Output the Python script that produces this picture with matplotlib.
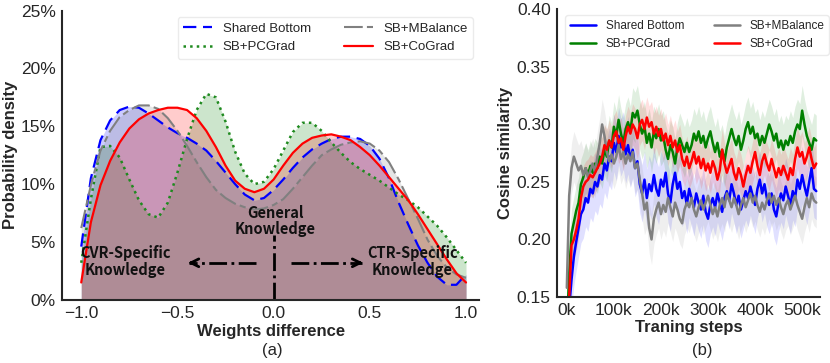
import numpy as np
import matplotlib
matplotlib.use('Agg')
import matplotlib.pyplot as plt
import seaborn as sns
from matplotlib.ticker import PercentFormatter, FuncFormatter

sns.set_style('white')
plt.rcParams['font.family'] = ['Liberation Sans', 'DejaVu Sans']

# ---- (a) weight difference densities, values in %
wd = np.round(np.arange(-1.0, 1.001, 0.05), 2)
dens_sb = [4.6, 10.5, 13.8, 15.5, 16.4, 16.7, 16.6, 16.1, 15.5, 14.9, 14.4,
           14.0, 13.5, 12.9, 12.0, 11.0, 10.0, 9.1, 8.6, 8.8, 9.5, 10.4, 11.4,
           12.3, 13.0, 13.5, 13.9, 14.1, 14.1, 13.9, 13.3, 12.2, 10.5, 8.4, 6.5,
           4.7, 3.2, 2.0, 1.3, 1.3, 2.2]
dens_pc = [3.2, 8.7, 13.2, 13.3, 12.3, 10.4, 8.6, 7.4, 7.1, 8.4, 11.0,
           13.9, 16.4, 17.8, 17.5, 15.4, 12.8, 10.9, 10.0, 10.2, 11.3, 12.9, 14.5,
           15.3, 15.3, 14.6, 13.6, 12.7, 11.9, 11.3, 10.8, 10.3, 9.7, 9.1, 8.6,
           8.0, 7.2, 6.4, 5.4, 4.3, 3.2]
dens_mb = [6.2, 9.9, 12.9, 14.6, 15.8, 16.4, 16.8, 16.8, 16.5, 15.7, 14.6,
           13.3, 11.9, 10.6, 9.5, 8.8, 8.3, 8.0, 7.8, 7.9, 8.2, 8.7, 9.6,
           10.6, 11.6, 12.5, 13.0, 13.4, 13.6, 13.7, 13.5, 12.9, 11.9, 10.4, 8.7,
           7.0, 5.2, 3.8, 2.8, 2.2, 1.9]
dens_co = [1.5, 6.7, 9.9, 12.0, 13.6, 14.8, 15.6, 16.1, 16.4, 16.6, 16.6,
           16.4, 15.7, 14.6, 13.2, 11.6, 10.3, 9.6, 9.3, 9.6, 10.4, 11.6, 12.7,
           13.5, 14.0, 14.2, 14.3, 14.1, 13.8, 13.2, 12.5, 11.6, 10.6, 9.6, 8.6,
           7.4, 6.1, 4.8, 3.5, 2.3, 1.5]

# ---- (b) cosine similarity over training steps (k)
steps = np.arange(0, 531, 5)
cos_sb = [0.105, 0.140, 0.165, 0.185, 0.198, 0.210, 0.222, 0.226, 0.236, 0.232, 0.244,
          0.240, 0.250, 0.246, 0.256, 0.252, 0.266, 0.260, 0.272, 0.268, 0.284,
          0.276, 0.290, 0.280, 0.286, 0.274, 0.282, 0.270, 0.278, 0.262, 0.268,
          0.248, 0.240, 0.252, 0.236, 0.248, 0.242, 0.256, 0.244, 0.238, 0.252,
          0.246, 0.258, 0.240, 0.232, 0.248, 0.258, 0.244, 0.250, 0.236, 0.242,
          0.230, 0.244, 0.236, 0.228, 0.240, 0.232, 0.226, 0.238, 0.224, 0.218,
          0.230, 0.236, 0.228, 0.240, 0.232, 0.224, 0.236, 0.242, 0.234, 0.248,
          0.240, 0.230, 0.238, 0.226, 0.234, 0.242, 0.236, 0.246, 0.238, 0.230,
          0.244, 0.252, 0.240, 0.248, 0.236, 0.230, 0.240, 0.226, 0.220, 0.232,
          0.240, 0.234, 0.246, 0.238, 0.230, 0.242, 0.236, 0.252, 0.244, 0.256,
          0.246, 0.238, 0.250, 0.262, 0.244, 0.242]
cos_pc = [0.120, 0.170, 0.205, 0.215, 0.225, 0.232, 0.248, 0.254, 0.262, 0.256, 0.264,
          0.258, 0.266, 0.262, 0.272, 0.266, 0.278, 0.272, 0.286, 0.280, 0.298,
          0.290, 0.304, 0.292, 0.284, 0.296, 0.302, 0.294, 0.310, 0.306, 0.312,
          0.300, 0.292, 0.298, 0.284, 0.292, 0.280, 0.294, 0.288, 0.296, 0.286,
          0.290, 0.278, 0.270, 0.282, 0.276, 0.266, 0.280, 0.288, 0.282, 0.276,
          0.284, 0.276, 0.282, 0.292, 0.286, 0.294, 0.284, 0.290, 0.280, 0.288,
          0.294, 0.284, 0.276, 0.284, 0.272, 0.278, 0.268, 0.280, 0.288, 0.296,
          0.288, 0.282, 0.290, 0.278, 0.286, 0.296, 0.302, 0.292, 0.298, 0.288,
          0.292, 0.282, 0.290, 0.284, 0.292, 0.300, 0.294, 0.286, 0.292, 0.280,
          0.286, 0.278, 0.286, 0.282, 0.290, 0.284, 0.294, 0.300, 0.296, 0.312,
          0.300, 0.290, 0.284, 0.278, 0.288, 0.286]
cos_mb = [0.158, 0.238, 0.262, 0.272, 0.266, 0.260, 0.264, 0.256, 0.262, 0.254, 0.260,
          0.266, 0.258, 0.272, 0.284, 0.300, 0.290, 0.276, 0.268, 0.274, 0.266,
          0.272, 0.282, 0.270, 0.276, 0.266, 0.274, 0.268, 0.276, 0.262, 0.266,
          0.252, 0.240, 0.226, 0.232, 0.210, 0.200, 0.218, 0.226, 0.232, 0.222,
          0.230, 0.224, 0.236, 0.228, 0.220, 0.232, 0.226, 0.218, 0.214, 0.226,
          0.232, 0.228, 0.236, 0.226, 0.220, 0.228, 0.234, 0.226, 0.232, 0.238,
          0.230, 0.222, 0.228, 0.220, 0.230, 0.236, 0.228, 0.240, 0.234, 0.228,
          0.236, 0.230, 0.222, 0.230, 0.236, 0.228, 0.234, 0.240, 0.232, 0.238,
          0.230, 0.224, 0.232, 0.226, 0.234, 0.240, 0.232, 0.238, 0.230, 0.236,
          0.228, 0.222, 0.230, 0.234, 0.226, 0.232, 0.238, 0.230, 0.224, 0.218,
          0.228, 0.236, 0.228, 0.240, 0.234, 0.232]
cos_co = [0.110, 0.150, 0.195, 0.200, 0.208, 0.218, 0.236, 0.246, 0.250, 0.252, 0.256,
          0.254, 0.258, 0.262, 0.266, 0.272, 0.282, 0.278, 0.286, 0.280, 0.290,
          0.294, 0.284, 0.288, 0.278, 0.290, 0.298, 0.292, 0.300, 0.296, 0.288,
          0.300, 0.304, 0.296, 0.306, 0.298, 0.302, 0.292, 0.298, 0.290, 0.296,
          0.286, 0.292, 0.282, 0.290, 0.280, 0.286, 0.276, 0.282, 0.270, 0.264,
          0.272, 0.262, 0.268, 0.276, 0.266, 0.272, 0.262, 0.270, 0.260, 0.266,
          0.258, 0.268, 0.262, 0.252, 0.260, 0.278, 0.266, 0.258, 0.264, 0.270,
          0.258, 0.252, 0.262, 0.256, 0.246, 0.256, 0.264, 0.258, 0.268, 0.276,
          0.264, 0.256, 0.268, 0.274, 0.266, 0.260, 0.270, 0.262, 0.254, 0.262,
          0.256, 0.264, 0.258, 0.252, 0.262, 0.256, 0.270, 0.280, 0.272, 0.276,
          0.266, 0.272, 0.280, 0.270, 0.262, 0.266]
band = [0.025, 0.022, 0.022, 0.018]   # half width of shaded spread: SB, PCGrad, MBalance, CoGrad

names = ['Shared Bottom', 'SB+PCGrad', 'SB+MBalance', 'SB+CoGrad']

fig = plt.figure(figsize=(8.3, 3.63), dpi=100)
ax1 = fig.add_axes([0.0747, 0.174, 0.503, 0.797])
ax2 = fig.add_axes([0.671, 0.182, 0.317, 0.792])

# ---------- (a)
c_fill = ['blue', 'green', 'gray', 'red']
for d, c in zip([dens_sb, dens_pc, dens_mb, dens_co], c_fill):
    ax1.fill_between(wd, 0, d, color=c, alpha=0.2, lw=0)
ax1.plot(wd, dens_sb, color='blue', lw=1.6, dashes=(6, 3), label=names[0])
ax1.plot(wd, dens_pc, color='#1f8a1f', lw=1.8, ls=':', label=names[1])
ax1.plot(wd, dens_mb, color='gray', lw=1.5, dashes=(9, 2, 3, 2), label=names[2])
ax1.plot(wd, dens_co, color='red', lw=1.6, label=names[3])

ax1.set_xlim(-1.1, 1.07)
ax1.set_ylim(0, 25)
ax1.set_xticks([-1.0, -0.5, 0.0, 0.5, 1.0])
ax1.set_yticks([0, 5, 10, 15, 20, 25])
ax1.yaxis.set_major_formatter(PercentFormatter(100, decimals=0))
ax1.tick_params(labelsize=12.5, colors='#262626', pad=1)
ax1.set_xlabel('Weights difference', fontsize=12, fontweight='bold', labelpad=2)
ax1.set_ylabel('Probability density', fontsize=12, fontweight='bold', labelpad=2)
ax1.legend(ncol=2, fontsize=9.5, loc='upper right', bbox_to_anchor=(1.0, 1.0),
           handlelength=2.2, columnspacing=2.5, frameon=True, edgecolor='#e6e6e6')

kfont = ['Noto Sans CJK SC', 'DejaVu Sans']
ax1.vlines(0, 0, 5.6, colors='black', linestyles='-.', lw=2)
ax1.plot([-0.09, -0.44], [3.2, 3.2], color='black', ls='-.', lw=2)
ax1.plot([0.09, 0.46], [3.2, 3.2], color='black', ls='-.', lw=2)
ax1.annotate('', xy=(-0.46, 3.2), xytext=(-0.40, 3.2),
             arrowprops=dict(arrowstyle='->', lw=2, color='black', mutation_scale=14))
ax1.annotate('', xy=(0.48, 3.2), xytext=(0.42, 3.2),
             arrowprops=dict(arrowstyle='->', lw=2, color='black', mutation_scale=14))
ax1.text(0.01, 5.4, 'General\nKnowledge', ha='center', va='bottom', fontsize=10.5,
         family=kfont, fontweight='bold', linespacing=1.05, color='#111111')
ax1.text(-0.77, 3.3, 'CVR-Specific\nKnowledge', ha='center', va='center', fontsize=10.5,
         family=kfont, fontweight='bold', linespacing=1.05, color='#111111')
ax1.text(0.72, 3.3, 'CTR-Specific\nKnowledge', ha='center', va='center', fontsize=10.5,
         family=kfont, fontweight='bold', linespacing=1.05, color='#111111')

# ---------- (b)
cols = ['blue', 'green', 'gray', 'red']
for s, c, w, n in zip([cos_sb, cos_pc, cos_mb, cos_co], cols, band, names):
    s = np.array(s)
    ax2.fill_between(steps, s - w, s + w, color=c, alpha=0.12, lw=0)
    ax2.plot(steps, s, color=c, lw=1.8, label=n)

ax2.set_xlim(-21, 538)
ax2.set_ylim(0.15, 0.40)
ax2.set_xticks([0, 100, 200, 300, 400, 500])
ax2.xaxis.set_major_formatter(FuncFormatter(lambda v, p: '%dk' % v))
ax2.set_yticks([0.15, 0.20, 0.25, 0.30, 0.35, 0.40])
ax2.yaxis.set_major_formatter(FuncFormatter(lambda v, p: '%.2f' % v))
ax2.tick_params(labelsize=12.5, colors='#262626', pad=1)
ax2.set_xlabel('Traning steps', fontsize=12, fontweight='bold', labelpad=1)
ax2.set_ylabel('Cosine similarity', fontsize=12, fontweight='bold', labelpad=3)
leg2 = ax2.legend(ncol=2, fontsize=8.5, loc='upper left', bbox_to_anchor=(0.01, 1.0),
                  handlelength=2.2, columnspacing=2.5, frameon=True, edgecolor='#e6e6e6')

for ax in (ax1, ax2):
    sns.despine(ax=ax)
    for sp in ('left', 'bottom'):
        ax.spines[sp].set_color('#262626')
        ax.spines[sp].set_linewidth(1.5)

fig.text(272 / 830, 1 - 350 / 363, '(a)', ha='center', va='center', fontsize=12, color='#262626')
fig.text(702 / 830, 1 - 350 / 363, '(b)', ha='center', va='center', fontsize=12, color='#262626')

fig.savefig('out.png', dpi=100)
